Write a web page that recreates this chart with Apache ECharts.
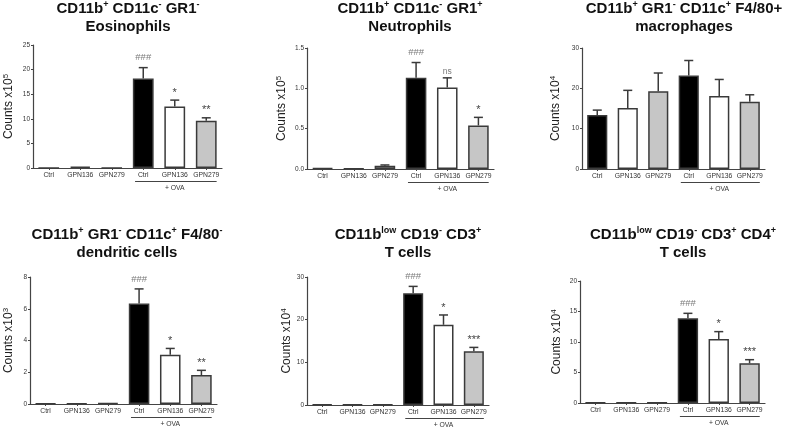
<!DOCTYPE html>
<html><head><meta charset="utf-8">
<script src="https://cdn.jsdelivr.net/npm/echarts@6/dist/echarts.min.js"></script>
<style>html,body{margin:0;padding:0;background:#fff}#c{width:787px;height:428px}</style>
</head><body><div id="c"></div>
<script>
// ---------- data ----------
const categories = ['Ctrl', 'GPN136', 'GPN279', 'Ctrl', 'GPN136', 'GPN279'];
const ovaGroup = [3, 5];          // first and last category under "+ OVA"
const ovaLabel = '+ OVA';

const eosMean = [0.02, 0.3, 0.05, 18.2, 12.5, 9.6];
const eosErr  = [0.02, 0.1, 0.02, 2.2, 1.3, 0.6];
const eosSig  = ['', '', '', '###', '*', '**'];
const eosTicks = [0, 5, 10, 15, 20, 25];

const neuMean = [0.01, 0.005, 0.04, 1.13, 1.01, 0.54];
const neuErr  = [0.003, 0.002, 0.01, 0.19, 0.12, 0.10];
const neuSig  = ['', '', '', '###', 'ns', '*'];
const neuTicks = [0.0, 0.5, 1.0, 1.5];

const macMean = [13.4, 15.1, 19.3, 23.2, 18.1, 16.7];
const macErr  = [1.2, 4.4, 4.5, 3.7, 4.1, 1.7];
const macSig  = ['', '', '', '', '', ''];
const macTicks = [0, 10, 20, 30];

const dcMean = [0.03, 0.03, 0.05, 6.33, 3.1, 1.82];
const dcErr  = [0.01, 0.01, 0.02, 0.92, 0.4, 0.3];
const dcSig  = ['', '', '', '###', '*', '**'];
const dcTicks = [0, 2, 4, 6, 8];

const tMean = [0.15, 0.1, 0.1, 26.2, 18.8, 12.6];
const tErr  = [0.1, 0.05, 0.05, 1.6, 2.3, 0.9];
const tSig  = ['', '', '', '###', '*', '***'];
const tTicks = [0, 10, 20, 30];

const cd4Mean = [0.05, 0.05, 0.05, 13.9, 10.5, 6.5];
const cd4Err  = [0.02, 0.02, 0.02, 0.8, 1.2, 0.6];
const cd4Sig  = ['', '', '', '###', '*', '***'];
const cd4Ticks = [0, 5, 10, 15, 20];

const titles = [
  '{b|CD11b}{s|+}{b| CD11c}{s|-}{b| GR1}{s|-}\n{b|Eosinophils}',
  '{b|CD11b}{s|+}{b| CD11c}{s|-}{b| GR1}{s|+}\n{b|Neutrophils}',
  '{b|CD11b}{s|+}{b| GR1}{s|-}{b| CD11c}{s|+}{b| F4/80+}\n{b|macrophages}',
  '{b|CD11b}{s|+}{b| GR1}{s|-}{b| CD11c}{s|+}{b| F4/80}{s|-}\n{b|dendritic cells}',
  '{b|CD11b}{s|low}{b| CD19}{s|-}{b| CD3}{s|+}\n{b|T cells}',
  '{b|CD11b}{s|low}{b| CD19}{s|-}{b| CD3}{s|+}{b| CD4}{s|+}\n{b|T cells}'
];
const exponents = ['5', '5', '4', '3', '4', '4'];

// ---------- layout / style ----------
const panels = [
  {mean: eosMean, err: eosErr, sig: eosSig, ticks: eosTicks, grid: {left: 33, top: 45, width: 189, height: 123}, tx: 128, ty: 0, gap: 17, dec: 0},
  {mean: neuMean, err: neuErr, sig: neuSig, ticks: neuTicks, grid: {left: 307, top: 48, width: 187, height: 121}, tx: 410, ty: 0, gap: 18, dec: 1},
  {mean: macMean, err: macErr, sig: macSig, ticks: macTicks, grid: {left: 582, top: 48, width: 183, height: 121}, tx: 684, ty: 0, gap: 19, dec: 0},
  {mean: dcMean, err: dcErr, sig: dcSig, ticks: dcTicks, grid: {left: 30, top: 277, width: 187, height: 127}, tx: 127, ty: 226, gap: 14, dec: 0},
  {mean: tMean, err: tErr, sig: tSig, ticks: tTicks, grid: {left: 307, top: 277, width: 182, height: 128}, tx: 408, ty: 226, gap: 13, dec: 0},
  {mean: cd4Mean, err: cd4Err, sig: cd4Sig, ticks: cd4Ticks, grid: {left: 580, top: 281, width: 185, height: 122}, tx: 683, ty: 226, gap: 16, dec: 0}
];
const fills = ['#000000', '#ffffff', '#c6c6c6', '#000000', '#ffffff', '#c6c6c6'];
const FONT = '"Liberation Sans", Arial, sans-serif';
const AX = '#444';

const option = {
  backgroundColor: '#fff',
  animation: false,
  textStyle: {fontFamily: FONT},
  title: [], grid: [], xAxis: [], yAxis: [], series: []
};

panels.forEach((p, k) => {
  option.title.push({
    text: titles[k], left: p.tx, top: p.ty, textAlign: 'center', textVerticalAlign: 'top', padding: 0,
    textStyle: {
      rich: {
        b: {fontSize: 15, fontWeight: 'bold', color: '#111', lineHeight: 18, fontFamily: FONT},
        s: {fontSize: 9, fontWeight: 'bold', color: '#111', lineHeight: 9, verticalAlign: 'top', fontFamily: FONT}
      }
    }
  });
  option.grid.push(Object.assign({containLabel: false}, p.grid));
  option.xAxis.push({
    type: 'category', gridIndex: k, data: categories,
    axisLine: {lineStyle: {color: AX, width: 1.2}},
    axisTick: {show: true, alignWithLabel: true, length: 2, lineStyle: {color: AX}},
    axisLabel: {fontSize: 6.8, color: '#333', margin: 4, interval: 0}
  });
  const t = p.ticks;
  option.yAxis.push({
    type: 'value', gridIndex: k, min: t[0], max: t[t.length - 1], interval: t[1] - t[0],
    name: '{n|Counts x10}{s|' + exponents[k] + '}', nameLocation: 'middle', nameRotate: 90, nameGap: p.gap,
    nameTextStyle: {
      rich: {
        n: {fontSize: 12, color: '#222', lineHeight: 14, fontFamily: FONT},
        s: {fontSize: 8, color: '#222', lineHeight: 8, verticalAlign: 'top', fontFamily: FONT}
      }
    },
    axisLine: {show: true, lineStyle: {color: AX, width: 1.2}},
    axisTick: {show: true, length: 2, lineStyle: {color: AX}},
    splitLine: {show: false},
    axisLabel: {fontSize: 6.5, color: '#333', margin: 3, formatter: v => v.toFixed(p.dec)}
  });
  option.series.push({
    type: 'bar', xAxisIndex: k, yAxisIndex: k, barWidth: '66%',
    data: p.mean.map((v, i) => ({value: v, itemStyle: {color: fills[i]}})),
    itemStyle: {borderColor: '#3a3a3a', borderWidth: 1.5},
    z: 2
  });
  option.series.push({
    type: 'custom', xAxisIndex: k, yAxisIndex: k, clip: false, z: 5,
    data: p.mean.map((m, i) => [i, m, p.err[i]]),
    encode: {x: 0, y: 1},
    renderItem: (params, api) => {
      const i = api.value(0), m = api.value(1), e = api.value(2);
      const base = api.coord([i, m]);
      const top = api.coord([i, m + e]);
      const children = [];
      if (base[1] - top[1] > 0.8) {
        children.push({type: 'line', shape: {x1: base[0], y1: base[1], x2: top[0], y2: top[1]}, style: {stroke: '#3a3a3a', lineWidth: 1.5}});
        children.push({type: 'line', shape: {x1: top[0] - 4.5, y1: top[1], x2: top[0] + 4.5, y2: top[1]}, style: {stroke: '#3a3a3a', lineWidth: 1.5}});
      }
      const s = p.sig[params.dataIndex];
      if (s) {
        const hash = s[0] === '#';
        children.push({type: 'text', style: {
          text: s, x: top[0], y: top[1] - (hash ? 5 : 2), align: 'center', verticalAlign: 'bottom',
          fontSize: hash ? 9.5 : (s === 'ns' ? 8.5 : 11), fill: hash || s === 'ns' ? '#7a7a7a' : '#444', fontFamily: FONT
        }});
      }
      return {type: 'group', children};
    }
  });
  option.series.push({
    type: 'custom', xAxisIndex: k, yAxisIndex: k, clip: false, z: 5,
    data: [[ovaGroup[0], 0, ovaGroup[1]]],
    encode: {x: 0, y: 1},
    renderItem: (params, api) => {
      const a = api.coord([api.value(0), 0]);
      const b = api.coord([api.value(2), 0]);
      const bw = api.size([1, 0])[0];
      return {type: 'group', children: [
        {type: 'line', shape: {x1: a[0] - bw * 0.26, y1: a[1] + 13.5, x2: b[0] + bw * 0.33, y2: a[1] + 13.5}, style: {stroke: '#444', lineWidth: 1}},
        {type: 'text', style: {text: ovaLabel, x: (a[0] + b[0]) / 2, y: a[1] + 20, align: 'center', verticalAlign: 'middle', fontSize: 6.8, fill: '#333', fontFamily: FONT}}
      ]};
    }
  });
});

const chart = echarts.init(document.getElementById('c'), null, {renderer: 'canvas'});
chart.setOption(option);
</script>
</body></html>
